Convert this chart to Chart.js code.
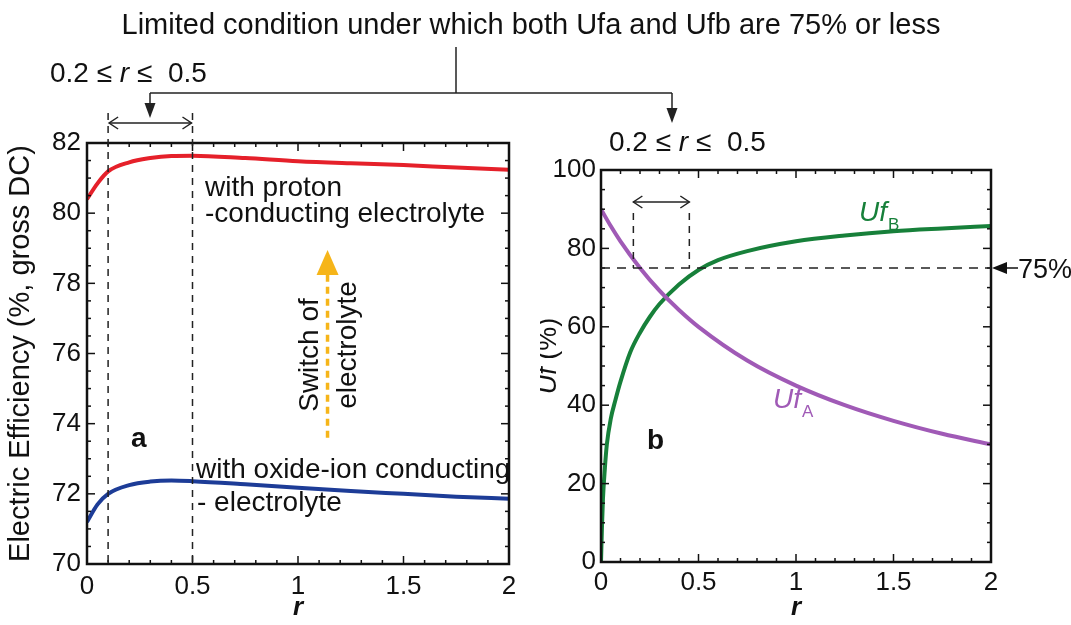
<!DOCTYPE html>
<html><head><meta charset="utf-8">
<script src="https://cdn.jsdelivr.net/npm/chart.js@4.4.1/dist/chart.umd.min.js"></script>
<style>
html,body{margin:0;padding:0;background:#fff;}
#wrap{position:relative;width:1071px;height:625px;overflow:hidden;font-family:"Liberation Sans",Arial,sans-serif;color:#111;}
canvas{position:absolute;top:0;}
.t{position:absolute;white-space:nowrap;line-height:1;}
svg{position:absolute;left:0;top:0;}
</style></head><body>
<div id="wrap">
<canvas id="ca" width="540" height="625" style="left:0"></canvas>
<canvas id="cb" width="531" height="625" style="left:540px"></canvas>
<svg width="1071" height="625">
  <g stroke="#222" stroke-width="1.5" fill="none">
    <line x1="456" y1="47" x2="456" y2="93"/>
    <line x1="150" y1="93" x2="672" y2="93"/>
    <line x1="150" y1="93" x2="150" y2="105"/>
    <line x1="672" y1="93" x2="672" y2="110"/>
  </g>
  <g fill="#222">
    <polygon points="150,118 144.5,103 155.5,103"/>
    <polygon points="672,123 666.5,108 677.5,108"/>
  </g>
</svg>
<div class="t" data-x="531" data-b="35" data-s="29" data-c="1">Limited condition under which both Ufa and Ufb are 75% or less</div>
<div class="t" data-x="50" data-b="83" data-s="28">0.2 ≤ <i>r</i> ≤&nbsp; 0.5</div>
<div class="t" data-x="609" data-b="152" data-s="28">0.2 ≤ <i>r</i> ≤&nbsp; 0.5</div>
</div>
<script>
// ---- data ----
const rEff      = [0, 0.05, 0.1, 0.2, 0.3, 0.4, 0.5, 0.75, 1, 1.25, 1.5, 1.75, 2];
const effProton = [80.4, 80.85, 81.19, 81.45, 81.57, 81.63, 81.64, 81.57, 81.48, 81.42, 81.37, 81.3, 81.24];
const effOxide  = [71.2, 71.7, 72.0, 72.25, 72.35, 72.38, 72.36, 72.27, 72.17, 72.08, 72.0, 71.92, 71.86];
const rUfA = [0, 0.05, 0.1, 0.2, 0.3, 0.4, 0.5, 0.75, 1, 1.25, 1.5, 1.75, 2];
const ufA  = [90, 85.7, 81.8, 75, 69.2, 64.3, 60, 51.4, 45, 40, 36, 32.7, 30];
const rUfB = [0, 0.005, 0.01, 0.02, 0.03, 0.05, 0.075, 0.1, 0.15, 0.2, 0.25, 0.3, 0.4, 0.5, 0.6, 0.75, 1, 1.25, 1.5, 1.75, 2];
const ufB  = [0, 9, 16, 24, 30, 36.5, 41.5, 46, 53.5, 58.5, 62.5, 65.8, 70.8, 74.5, 77, 79.3, 81.8, 83.3, 84.4, 85.1, 85.7];
const xTickLabels   = ['0', '0.5', '1', '1.5', '2'];
const effTickLabels = ['70', '72', '74', '76', '78', '80', '82'];
const ufTickLabels  = ['0', '20', '40', '60', '80', '100'];
const rangeA = [0.1, 0.5];
const rangeB = [0.166, 0.453];
const ufLimit = 75;
const switchArrow = {r: 1.14, from: 73.6, to: 78.95};

const F = '"Liberation Sans", Arial, sans-serif';
const INK = '#111';

document.querySelectorAll('.t').forEach(el => {
  const s = +el.dataset.s;
  el.style.fontSize = s + 'px';
  el.style.top = (+el.dataset.b - 0.8465 * s) + 'px';
  if (el.dataset.c) { el.style.left = '0px'; const w = el.getBoundingClientRect().width; el.style.left = (+el.dataset.x - w / 2) + 'px'; }
  else el.style.left = el.dataset.x + 'px';
});

function pts(xs, ys) { return xs.map((x, i) => ({x: x, y: ys[i]})); }

function line(ctx, x1, y1, x2, y2) { ctx.beginPath(); ctx.moveTo(x1, y1); ctx.lineTo(x2, y2); ctx.stroke(); }

function framePlugin(xMinor, yMinor) {
  return {
    id: 'frame',
    afterDatasetsDraw(chart) {
      const {ctx, chartArea: a, scales: {x, y}} = chart;
      ctx.save();
      ctx.strokeStyle = INK; ctx.lineWidth = 1.5;
      const xs = x.options.ticks.stepSize, ys = y.options.ticks.stepSize;
      const nx = Math.round((x.max - x.min) / xMinor);
      for (let i = 0; i <= nx; i++) {
        const v = x.min + i * xMinor, px = x.getPixelForValue(v);
        const maj = Math.abs(v / xs - Math.round(v / xs)) < 1e-6;
        const L = maj ? 8 : 4;
        line(ctx, px, a.bottom, px, a.bottom - L);
        line(ctx, px, a.top, px, a.top + L);
      }
      const ny = Math.round((y.max - y.min) / yMinor);
      for (let i = 0; i <= ny; i++) {
        const v = y.min + i * yMinor, py = y.getPixelForValue(v);
        const maj = Math.abs((v - y.min) / ys - Math.round((v - y.min) / ys)) < 1e-6;
        const L = maj ? 8 : 4;
        line(ctx, a.left, py, a.left + L, py);
        line(ctx, a.right, py, a.right - L, py);
      }
      ctx.lineWidth = 2.5;
      ctx.strokeRect(a.left, a.top, a.right - a.left, a.bottom - a.top);
      ctx.restore();
    }
  };
}

function dblArrow(ctx, x1, x2, y) {
  line(ctx, x1, y, x2, y);
  ctx.beginPath(); ctx.moveTo(x1 + 9, y - 6); ctx.lineTo(x1, y); ctx.lineTo(x1 + 9, y + 6); ctx.stroke();
  ctx.beginPath(); ctx.moveTo(x2 - 9, y - 6); ctx.lineTo(x2, y); ctx.lineTo(x2 - 9, y + 6); ctx.stroke();
}

const annoA = {
  id: 'annoA',
  afterDatasetsDraw(chart) {
    const {ctx, chartArea: a, scales: {x, y}} = chart;
    ctx.save();
    ctx.strokeStyle = '#222'; ctx.lineWidth = 1.5;
    ctx.setLineDash([7, 6]);
    rangeA.forEach(r => { const px = x.getPixelForValue(r); line(ctx, px, 113, px, a.bottom); });
    ctx.setLineDash([]);
    dblArrow(ctx, x.getPixelForValue(rangeA[0]) + 1, x.getPixelForValue(rangeA[1]) - 1, 123);
    // orange switch arrow
    const xo = x.getPixelForValue(switchArrow.r);
    const yTip = y.getPixelForValue(switchArrow.to);
    const yBase = yTip + 25;
    ctx.strokeStyle = '#f6b519'; ctx.fillStyle = '#f6b519'; ctx.lineWidth = 3.5;
    ctx.setLineDash([7, 5]);
    line(ctx, xo, y.getPixelForValue(switchArrow.from), xo, yBase);
    ctx.setLineDash([]);
    ctx.beginPath(); ctx.moveTo(xo, yTip); ctx.lineTo(xo - 11, yBase); ctx.lineTo(xo + 11, yBase); ctx.closePath(); ctx.fill();
    // texts
    ctx.fillStyle = INK; ctx.textAlign = 'left'; ctx.textBaseline = 'alphabetic';
    ctx.font = '28px ' + F;
    ctx.fillText('with proton', 205, 196);
    ctx.fillText('-conducting electrolyte', 205, 222);
    ctx.fillText('with oxide-ion conducting', 196, 478);
    ctx.fillText('- electrolyte', 197, 511);
    ctx.font = 'bold 28px ' + F;
    ctx.fillText('a', 131, 447);
    ctx.font = '28px ' + F; ctx.textAlign = 'center';
    [['Switch of', 318, 355], ['electrolyte', 356, 345]].forEach(([t, bx, cy]) => {
      ctx.save(); ctx.translate(bx, cy); ctx.rotate(-Math.PI / 2); ctx.fillText(t, 0, 0); ctx.restore();
    });
    ctx.restore();
  }
};

const OX = 540;
const annoB = {
  id: 'annoB',
  afterDatasetsDraw(chart) {
    const {ctx, chartArea: a, scales: {x, y}} = chart;
    ctx.save();
    ctx.strokeStyle = '#222'; ctx.lineWidth = 1.5;
    const y75 = y.getPixelForValue(ufLimit);
    ctx.setLineDash([9, 7]);
    line(ctx, a.left, y75, a.right, y75);
    ctx.setLineDash([7, 6]);
    rangeB.forEach(r => { const px = x.getPixelForValue(r); line(ctx, px, 213, px, y75); });
    ctx.setLineDash([]);
    dblArrow(ctx, x.getPixelForValue(rangeB[0]), x.getPixelForValue(rangeB[1]), 202);
    // 75% pointer
    ctx.fillStyle = INK; ctx.strokeStyle = INK;
    line(ctx, a.right + 10, y75, a.right + 27, y75);
    ctx.beginPath(); ctx.moveTo(a.right + 1, y75); ctx.lineTo(a.right + 16, y75 - 6); ctx.lineTo(a.right + 16, y75 + 6); ctx.closePath(); ctx.fill();
    ctx.textAlign = 'left'; ctx.textBaseline = 'alphabetic';
    ctx.font = '27px ' + F;
    ctx.fillText('75%', 1018 - OX, y75 + 10);
    // series labels
    function uf(sub, xx, bb, col) {
      ctx.fillStyle = col;
      ctx.font = 'italic 28px ' + F; ctx.fillText('Uf', xx - OX, bb);
      const w = ctx.measureText('Uf').width;
      ctx.font = '17px ' + F; ctx.fillText(sub, xx - OX + w + 1, bb + 9);
    }
    uf('B', 859, 221, '#17803a');
    uf('A', 773, 408, '#a05ab6');
    ctx.fillStyle = INK; ctx.font = 'bold 28px ' + F;
    ctx.fillText('b', 647 - OX, 449);
    // y title "Uf (%)"
    ctx.save(); ctx.translate(556 - OX, 356); ctx.rotate(-Math.PI / 2);
    ctx.font = 'italic 27px ' + F; const w1 = ctx.measureText('Uf').width;
    ctx.font = '27px ' + F; const w2 = ctx.measureText(' (%)').width;
    const x0 = -(w1 + w2) / 2;
    ctx.font = 'italic 27px ' + F; ctx.fillText('Uf', x0, 0);
    ctx.font = '27px ' + F; ctx.fillText(' (%)', x0 + w1, 0);
    ctx.restore();
    ctx.restore();
  }
};

function xScale(pad, h) {
  return {
    type: 'linear', min: 0, max: 2,
    ticks: {stepSize: 0.5, autoSkip: false, maxRotation: 0, padding: pad, color: INK, font: {size: 26, family: F},
      callback: (v, i) => xTickLabels[i]},
    grid: {display: false, drawTicks: false}, border: {display: false},
    title: {display: true, text: 'r', color: INK, font: {size: 26, weight: 'bold', style: 'italic', family: F}, padding: {top: 0, bottom: 2}},
    afterFit(s) { s.height = h; }
  };
}

new Chart(document.getElementById('ca'), {
  type: 'line',
  data: {datasets: [
    {data: pts(rEff, effProton), borderColor: '#e5202a', borderWidth: 4, pointRadius: 0, cubicInterpolationMode: 'monotone', fill: false},
    {data: pts(rEff, effOxide), borderColor: '#1d3c97', borderWidth: 4, pointRadius: 0, cubicInterpolationMode: 'monotone', fill: false}
  ]},
  options: {
    responsive: false, animation: false, devicePixelRatio: 1,
    layout: {padding: {left: 0, top: 143, right: 31, bottom: 0}},
    plugins: {legend: {display: false}, tooltip: {enabled: false}},
    scales: {
      x: xScale(7, 61),
      y: {min: 70, max: 82,
        ticks: {stepSize: 2, padding: 6, color: INK, font: {size: 26, family: F}, callback: (v, i) => effTickLabels[i]},
        grid: {display: false, drawTicks: false}, border: {display: false},
        title: {display: true, text: 'Electric Efficiency (%, gross DC)', color: INK, font: {size: 29, family: F}, padding: {top: 4, bottom: 0}},
        afterFit(s) { s.width = 87; }}
    }
  },
  plugins: [framePlugin(0.1, 0.5), annoA]
});

new Chart(document.getElementById('cb'), {
  type: 'line',
  data: {datasets: [
    {data: pts(rUfA, ufA), borderColor: '#a05ab6', borderWidth: 4, pointRadius: 0, cubicInterpolationMode: 'monotone', fill: false},
    {data: pts(rUfB, ufB), borderColor: '#17803a', borderWidth: 4, pointRadius: 0, cubicInterpolationMode: 'monotone', fill: false}
  ]},
  options: {
    responsive: false, animation: false, devicePixelRatio: 1,
    layout: {padding: {left: 0, top: 170, right: 80, bottom: 0}},
    plugins: {legend: {display: false}, tooltip: {enabled: false}},
    scales: {
      x: xScale(5, 63),
      y: {min: 0, max: 100,
        ticks: {stepSize: 20, padding: 5, color: INK, font: {size: 26, family: F}, callback: (v, i) => ufTickLabels[i]},
        grid: {display: false, drawTicks: false}, border: {display: false},
        afterFit(s) { s.width = 61; }}
    }
  },
  plugins: [framePlugin(0.1, 5), annoB]
});
</script>
</body></html>
